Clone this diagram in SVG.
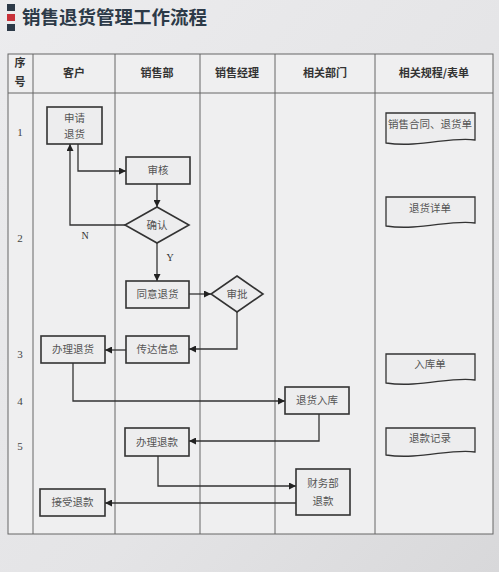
<svg xmlns="http://www.w3.org/2000/svg" width="499" height="572" viewBox="0 0 499 572">
<defs>
<linearGradient id="bg" x1="0" y1="0" x2="1" y2="1">
<stop offset="0" stop-color="#ececee"/>
<stop offset="0.6" stop-color="#e4e4e6"/>
<stop offset="1" stop-color="#d8d8da"/>
</linearGradient>
<marker id="ah" viewBox="0 0 10 10" refX="10" refY="5" markerWidth="7" markerHeight="7" markerUnits="userSpaceOnUse" orient="auto">
<path d="M0,0 L10,5 L0,10 Z" fill="#222"/>
</marker>
<style>
.grid{stroke:#666;stroke-width:1;fill:none}
.box{fill:#ededee;stroke:#333;stroke-width:1.6}
.doc{fill:#ededee;stroke:#333;stroke-width:1.3}
.conn{fill:none;stroke:#333;stroke-width:1.3}
.arr{marker-end:url(#ah)}
.hd{font-family:"Noto Sans CJK SC","Noto Sans",sans-serif;font-size:11px;font-weight:bold;fill:#333;text-anchor:middle}
.t{font-family:"Noto Sans CJK SC","Noto Sans",sans-serif;font-size:10.5px;fill:#555;text-anchor:middle}
.num{font-family:"Liberation Serif",serif;font-size:11px;fill:#444;text-anchor:middle}
.lbl{font-family:"Liberation Serif",serif;font-size:10px;fill:#333;text-anchor:middle}
</style>
</defs>
<rect x="0" y="0" width="499" height="572" fill="url(#bg)"/>
<g id="title">
<rect x="7" y="4" width="8" height="7" fill="#2d3a48"/>
<rect x="7" y="14" width="8" height="7" fill="#c8323a"/>
<rect x="7" y="24" width="8" height="7" fill="#2d3a48"/>
<text x="22" y="24" font-family="'Noto Sans CJK SC',sans-serif" font-size="18.5" font-weight="bold" fill="#2d3a48">销售退货管理工作流程</text>
</g>
<g id="table">
<rect x="8" y="54" width="485" height="480" fill="#efeff0" stroke="#666"/>
<line class="grid" x1="8" y1="93" x2="493" y2="93"/>
<line class="grid" x1="33" y1="54" x2="33" y2="534"/>
<line class="grid" x1="115" y1="54" x2="115" y2="534"/>
<line class="grid" x1="200" y1="54" x2="200" y2="534"/>
<line class="grid" x1="275" y1="54" x2="275" y2="534"/>
<line class="grid" x1="375" y1="54" x2="375" y2="534"/>
<text class="hd" x="20" y="67">序</text>
<text class="hd" x="20" y="86">号</text>
<text class="hd" x="74" y="77">客户</text>
<text class="hd" x="157" y="77">销售部</text>
<text class="hd" x="237" y="77">销售经理</text>
<text class="hd" x="325" y="77">相关部门</text>
<text class="hd" x="434" y="77">相关规程/表单</text>
<text class="num" x="20" y="136">1</text>
<text class="num" x="20" y="242">2</text>
<text class="num" x="20" y="358">3</text>
<text class="num" x="20" y="405">4</text>
<text class="num" x="20" y="450">5</text>
</g>
<g id="connectors">
<path class="conn arr" d="M78,144 V171 H126"/>
<path class="conn arr" d="M157,184 V207"/>
<path class="conn arr" d="M125,225 H70 V144"/>
<path class="conn arr" d="M157,243 V281"/>
<path class="conn arr" d="M189,294 H211"/>
<path class="conn arr" d="M237,312 V349 H189"/>
<path class="conn arr" d="M126,350 H105"/>
<path class="conn arr" d="M73,363 V401 H285"/>
<path class="conn arr" d="M319,414 V441 H189"/>
<path class="conn arr" d="M158,456 V486 H296"/>
<path class="conn arr" d="M296,503 H105"/>
<text class="lbl" x="85" y="239">N</text>
<text class="lbl" x="170" y="261">Y</text>
</g>
<g id="n-apply"><rect class="box" x="47" y="107" width="55" height="37"/><text class="t" x="74.5" y="122">申请</text><text class="t" x="74.5" y="138">退货</text></g>
<g id="n-review"><rect class="box" x="126" y="157" width="64" height="27"/><text class="t" x="158" y="174">审核</text></g>
<g id="n-confirm"><polygon class="box" points="157,207 189,225 157,243 125,225"/><text class="t" x="157" y="229">确认</text></g>
<g id="n-agree"><rect class="box" x="126" y="281" width="63" height="27"/><text class="t" x="157.5" y="298">同意退货</text></g>
<g id="n-approve"><polygon class="box" points="237,276 263,294 237,312 211,294"/><text class="t" x="237" y="298">审批</text></g>
<g id="n-inform"><rect class="box" x="126" y="336" width="63" height="27"/><text class="t" x="157.5" y="353">传达信息</text></g>
<g id="n-handle"><rect class="box" x="41" y="336" width="64" height="27"/><text class="t" x="73" y="353">办理退货</text></g>
<g id="n-stock"><rect class="box" x="285" y="387" width="64" height="27"/><text class="t" x="317" y="404">退货入库</text></g>
<g id="n-refund"><rect class="box" x="125" y="428" width="64" height="28"/><text class="t" x="157" y="446">办理退款</text></g>
<g id="n-finance"><rect class="box" x="296" y="469" width="54" height="46"/><text class="t" x="323" y="487">财务部</text><text class="t" x="323" y="505">退款</text></g>
<g id="n-accept"><rect class="box" x="40" y="489" width="65" height="27"/><text class="t" x="72.5" y="506">接受退款</text></g>
<g id="d-contract"><path class="doc" d="M386,113 H475 V140 C452,136 420,148 386,143 Z"/><text class="t" x="430" y="128">销售合同、退货单</text></g>
<g id="d-detail"><path class="doc" d="M386,197 H475 V223 C452,219 420,231 386,226 Z"/><text class="t" x="430" y="212">退货详单</text></g>
<g id="d-stock"><path class="doc" d="M386,354 H475 V380 C452,376 420,388 386,383 Z"/><text class="t" x="430" y="368">入库单</text></g>
<g id="d-refund"><path class="doc" d="M386,428 H475 V452 C452,448 420,460 386,455 Z"/><text class="t" x="430" y="442">退款记录</text></g>
</svg>
